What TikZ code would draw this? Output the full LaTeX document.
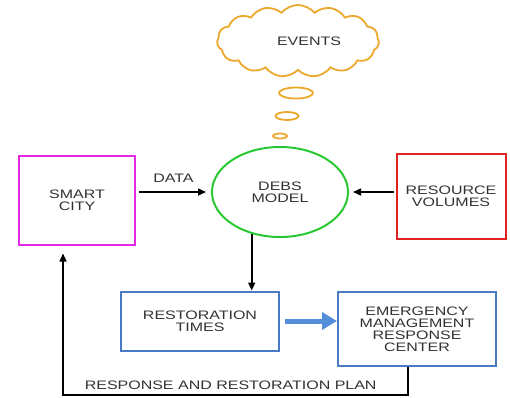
\documentclass[tikz,border=0pt]{standalone}
\usepackage{fontspec}
\setmainfont{Liberation Sans}[FakeStretch=1.3]
\usetikzlibrary{arrows.meta,shapes}

\definecolor{evtorange}{RGB}{236,168,44}
\definecolor{citymag}{RGB}{228,40,228}
\definecolor{debsgreen}{RGB}{40,200,50}
\definecolor{resred}{RGB}{222,34,34}
\definecolor{rtblue}{RGB}{74,122,196}
\definecolor{bigblue}{RGB}{84,142,218}
\definecolor{txt}{RGB}{50,50,50}

\tikzset{
	lbl/.style={text=txt,font=\fontsize{12.3}{12}\selectfont,align=center},
	box/.style={draw,lbl,line width=2pt,inner sep=0pt},
	bub/.style={draw=evtorange,ellipse,line width=1.8pt,inner sep=0pt},
	arr/.style={draw=black,line width=1.6pt,-{Triangle[length=8pt,width=7pt]}}
}

\begin{document}
\begin{tikzpicture}[x=1pt,y=-1pt]
		\useasboundingbox (0,0) rectangle (510,397);
		\node[box,draw=evtorange,cloud,cloud puffs=15,cloud puff arc=100,aspect=2.4,minimum width=162pt,minimum height=72pt,line width=1.8pt] (Evt) at (298,41) {\hspace*{22pt}EVENTS};
		\node[bub,minimum width=34pt,minimum height=11pt] (B1) at (296,93) {};
		\node[bub,minimum width=23pt,minimum height=8pt] (B2) at (287,116) {};
		\node[bub,minimum width=14pt,minimum height=5pt] (B3) at (280,136) {};
		\node[box,draw=citymag,minimum width=116pt,minimum height=89pt] (City) at (77,200) {SMART\\CITY};
		\node[box,draw=debsgreen,ellipse,minimum width=136pt,minimum height=90pt] (DEBS) at (280,192) {DEBS\\MODEL};
		\node[box,draw=resred,minimum width=109pt,minimum height=85pt] (Res) at (451,196) {RESOURCE\\VOLUMES};
		\node[box,draw=rtblue,minimum width=158pt,minimum height=59pt] (RT) at (200,321) {RESTORATION\\TIMES};
		\node[box,draw=rtblue,minimum width=158pt,minimum height=74pt] (EMRC) at (417,329) {EMERGENCY\\MANAGEMENT\\RESPONSE\\CENTER};
		\draw[arr,shorten <=3pt,shorten >=5pt] (City.east |- DEBS.west) -- node[lbl,above=5pt] (Dat) {DATA} (DEBS.west);
		\draw[arr,shorten <=2pt,shorten >=4pt] (Res.west |- DEBS.east) -- (DEBS.east);
		\draw[arr] (DEBS.236) -- (DEBS.236 |- RT.north);
		\draw[draw=bigblue,line width=5pt,shorten <=5pt,-{Triangle[length=15pt,width=17pt]}] (RT.east) -- (RT.east -| EMRC.west);
		\draw[arr,shorten >=8pt] ([xshift=-9pt]EMRC.south) -- ++(0,28) -| node[lbl,pos=0.257,above=1pt] (Plan) {RESPONSE AND RESTORATION PLAN} ([xshift=-14pt]City.south);
	\end{tikzpicture}
\end{document}
